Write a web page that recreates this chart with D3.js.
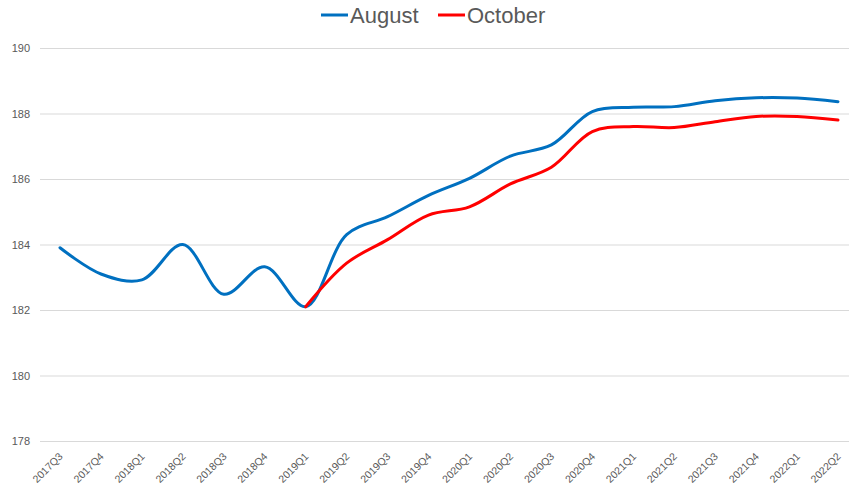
<!DOCTYPE html>
<html><head><meta charset="utf-8">
<script src="https://cdn.jsdelivr.net/npm/d3@7"></script>
<style>body{margin:0;background:#fff}svg{display:block}</style>
</head><body>
<svg id="chart" width="849" height="489"></svg>
<script>
const categories = ["2017Q3","2017Q4","2018Q1","2018Q2","2018Q3","2018Q4","2019Q1","2019Q2","2019Q3","2019Q4","2020Q1","2020Q2","2020Q3","2020Q4","2021Q1","2021Q2","2021Q3","2021Q4","2022Q1","2022Q2"];
const august = [183.9,183.1,182.92,184.0,182.48,183.32,182.1,184.3,184.85,185.5,186.02,186.7,187.04,188.06,188.19,188.21,188.39,188.48,188.47,188.36];
const october = [null,null,null,null,null,null,182.1,183.43,184.15,184.9,185.15,185.85,186.36,187.45,187.6,187.57,187.75,187.91,187.91,187.8];
const yTicks = [178,180,182,184,186,188,190];
const seriesNames = ["August","October"];
const colors = ["#0070C0","#FF0000"];

const svg = d3.select("#chart");
const x = d3.scalePoint().domain(categories).range([60, 838]);
const y = d3.scaleLinear().domain([178,190]).range([441, 48]);
const font = "'Liberation Sans', Arial, sans-serif";

// gridlines
const yAxis = d3.axisLeft(y).tickValues(yTicks).tickSize(-(849-40)).tickPadding(10).tickFormat(d3.format("d"));
const gy = svg.append("g").attr("transform","translate(40,0)").call(yAxis);
gy.select(".domain").remove();
gy.selectAll(".tick line").attr("stroke","#d9d9d9").attr("stroke-width",1);
gy.selectAll(".tick text").attr("fill","#595959").style("font-family",font).style("font-size","11px").attr("x",-10);

// x axis labels
const xAxis = d3.axisBottom(x).tickSize(0).tickPadding(0);
const gx = svg.append("g").attr("transform","translate(0,441)").call(xAxis);
gx.select(".domain").remove();
gx.selectAll(".tick text")
  .attr("fill","#595959").style("font-family",font).style("font-size","10.5px")
  .attr("text-anchor","end").attr("dy","0").attr("y",0)
  .attr("transform","translate(3,16) rotate(-45)");

const line = d3.line().defined(d=>d.v!=null).x(d=>x(d.c)).y(d=>y(d.v)).curve(d3.curveCatmullRom.alpha(0.5));
[august, october].forEach((arr,i)=>{
  const data = categories.map((c,j)=>({c, v:arr[j]}));
  svg.append("path").datum(data.filter(d=>d.v!=null)).attr("d",line)
    .attr("fill","none").attr("stroke",colors[i]).attr("stroke-width",3)
    .attr("stroke-linecap","round").attr("stroke-linejoin","round");
});

// legend
const leg = svg.append("g");
const legX = [321, 438];
seriesNames.forEach((n,i)=>{
  leg.append("line").attr("x1",legX[i]).attr("x2",legX[i]+27).attr("y1",15).attr("y2",15)
    .attr("stroke",colors[i]).attr("stroke-width",3);
  leg.append("text").attr("x",legX[i]+29).attr("y",23).text(n)
    .attr("fill","#595959").style("font-family",font).style("font-size","22px");
});
</script>
</body></html>
